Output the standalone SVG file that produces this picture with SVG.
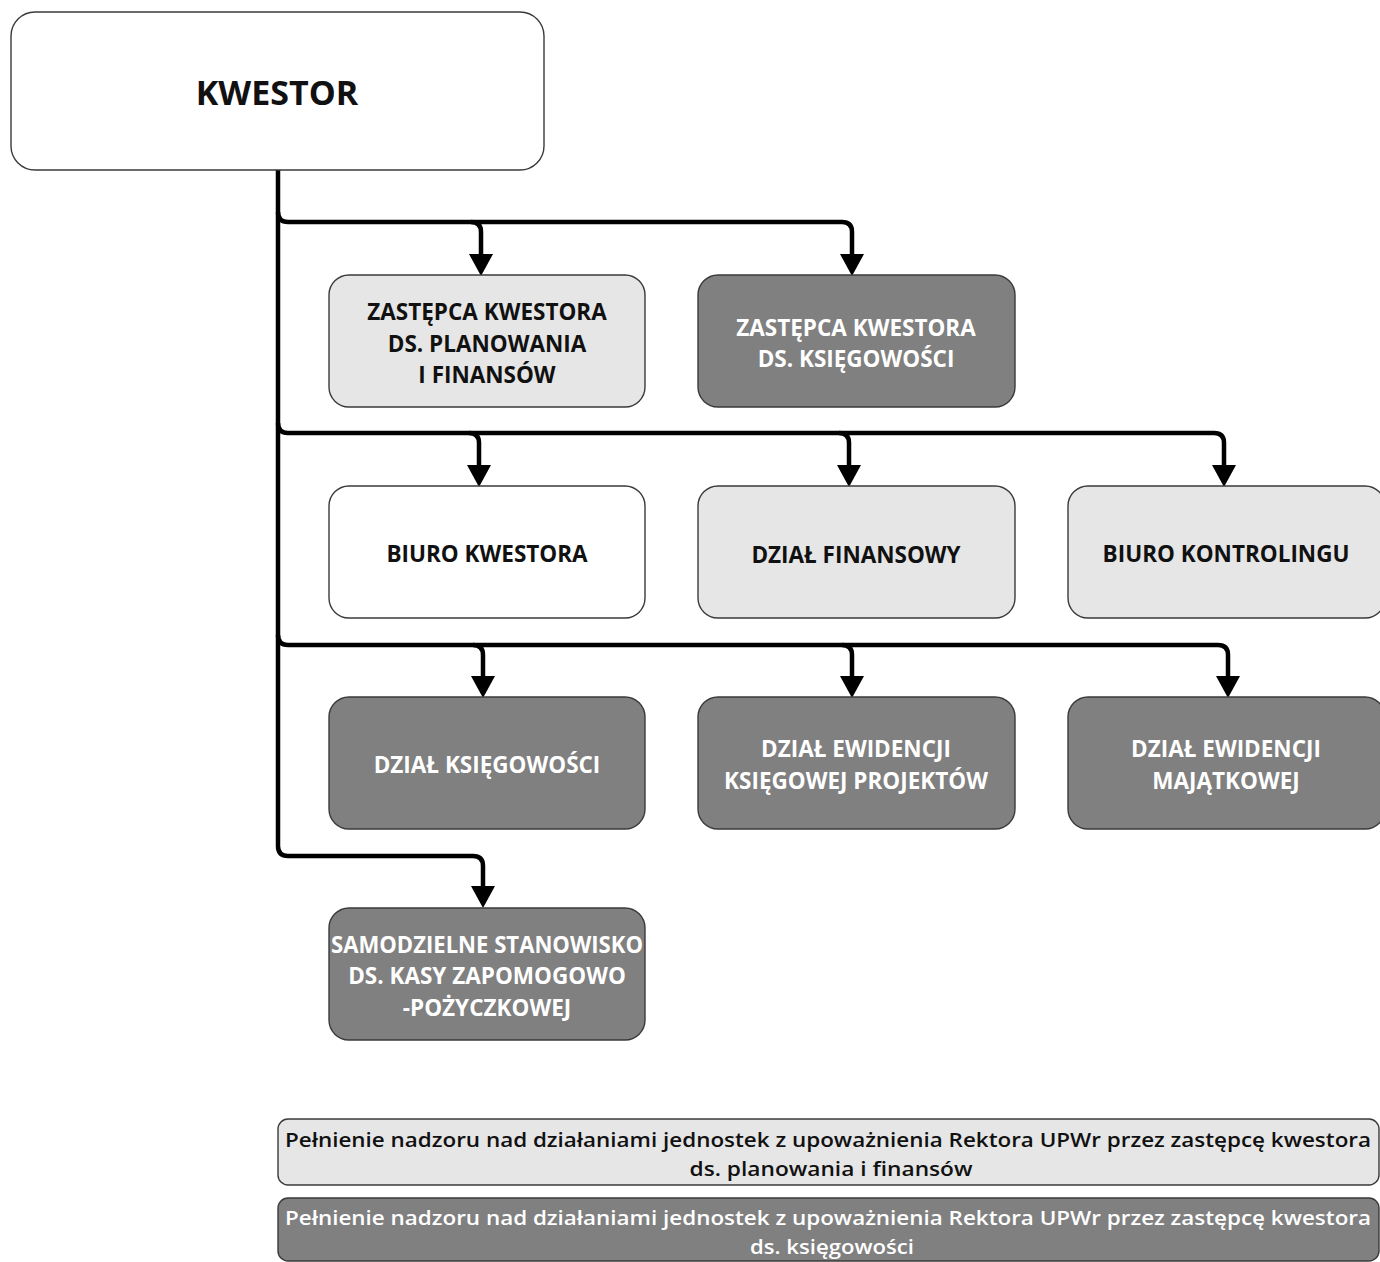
<svg xmlns="http://www.w3.org/2000/svg" width="1380" height="1262" viewBox="0 0 1380 1262">
<style>
.box{stroke:#3a3a3a;stroke-width:1.4}
.w{fill:#ffffff}
.l{fill:#e6e6e6}
.d{fill:#808080}
.t{font-family:"Open Sans","Liberation Sans",sans-serif;font-weight:700;font-size:22.5px;text-anchor:middle;dominant-baseline:central}
.big{font-size:34px}
.tw{fill:#ffffff}
.tb{fill:#111111}
.lg{font-family:"Open Sans","Liberation Sans",sans-serif;font-weight:600;font-size:20.5px;text-anchor:middle;dominant-baseline:central}
.c{fill:none;stroke:#000;stroke-width:4.5;stroke-linejoin:round}
</style>
<defs>
<marker id="arr" markerUnits="userSpaceOnUse" markerWidth="24" markerHeight="24" viewBox="0 0 20 22" refX="10" refY="11" orient="auto">
<path d="M0,0 L20,11 L0,22 z" fill="#000"/>
</marker>
</defs>
<g id="connectors">
<path class="c" d="M278,170 V846 Q278,856 288,856 H473 Q483,856 483,866 V897" marker-end="url(#arr)"/>
<path class="c" d="M278,212 Q278,222 288,222 H842 Q852,222 852,232 V265" marker-end="url(#arr)"/>
<path class="c" d="M471,222 Q481,222 481,232 V265" marker-end="url(#arr)"/>
<path class="c" d="M278,423 Q278,433 288,433 H1214 Q1224,433 1224,443 V476" marker-end="url(#arr)"/>
<path class="c" d="M469,433 Q479,433 479,443 V476" marker-end="url(#arr)"/>
<path class="c" d="M839,433 Q849,433 849,443 V476" marker-end="url(#arr)"/>
<path class="c" d="M278,635 Q278,645 288,645 H1218 Q1228,645 1228,655 V687" marker-end="url(#arr)"/>
<path class="c" d="M473,645 Q483,645 483,655 V687" marker-end="url(#arr)"/>
<path class="c" d="M842,645 Q852,645 852,655 V687" marker-end="url(#arr)"/>
</g>
<g id="kwestor">
<rect class="box w" x="11" y="12" width="533" height="158" rx="24"/>
<text class="t tb big" x="277" y="92">KWESTOR</text>
</g>
<g id="zastepca-planowania">
<rect class="box l" x="329" y="275" width="316" height="132" rx="20"/>
<text class="t tb" x="487" y="311">ZASTĘPCA KWESTORA</text>
<text class="t tb" x="487" y="343">DS. PLANOWANIA</text>
<text class="t tb" x="487" y="374">I FINANSÓW</text>
</g>
<g id="zastepca-ksiegowosci">
<rect class="box d" x="698" y="275" width="317" height="132" rx="20"/>
<text class="t tw" x="856" y="327">ZASTĘPCA KWESTORA</text>
<text class="t tw" x="856" y="358">DS. KSIĘGOWOŚCI</text>
</g>
<g id="biuro-kwestora">
<rect class="box w" x="329" y="486" width="316" height="132" rx="20"/>
<text class="t tb" x="487" y="553">BIURO KWESTORA</text>
</g>
<g id="dzial-finansowy">
<rect class="box l" x="698" y="486" width="317" height="132" rx="20"/>
<text class="t tb" x="856" y="554">DZIAŁ FINANSOWY</text>
</g>
<g id="biuro-kontrolingu">
<rect class="box l" x="1068" y="486" width="317" height="132" rx="20"/>
<text class="t tb" x="1226" y="553">BIURO KONTROLINGU</text>
</g>
<g id="dzial-ksiegowosci">
<rect class="box d" x="329" y="697" width="316" height="132" rx="20"/>
<text class="t tw" x="487" y="764">DZIAŁ KSIĘGOWOŚCI</text>
</g>
<g id="dzial-ewidencji-projektow">
<rect class="box d" x="698" y="697" width="317" height="132" rx="20"/>
<text class="t tw" x="856" y="748">DZIAŁ EWIDENCJI</text>
<text class="t tw" x="856" y="780">KSIĘGOWEJ PROJEKTÓW</text>
</g>
<g id="dzial-ewidencji-majatkowej">
<rect class="box d" x="1068" y="697" width="317" height="132" rx="20"/>
<text class="t tw" x="1226" y="748">DZIAŁ EWIDENCJI</text>
<text class="t tw" x="1226" y="780">MAJĄTKOWEJ</text>
</g>
<g id="samodzielne-stanowisko">
<rect class="box d" x="329" y="908" width="316" height="132" rx="20"/>
<text class="t tw" x="487" y="944" textLength="312" lengthAdjust="spacingAndGlyphs">SAMODZIELNE STANOWISKO</text>
<text class="t tw" x="487" y="975">DS. KASY ZAPOMOGOWO</text>
<text class="t tw" x="487" y="1007">-POŻYCZKOWEJ</text>
</g>
<g id="legend-planowania">
<rect class="box l" x="278" y="1119" width="1101" height="66" rx="10"/>
<text class="lg tb" x="828" y="1139" textLength="1086" lengthAdjust="spacingAndGlyphs">Pełnienie nadzoru nad działaniami jednostek z upoważnienia Rektora UPWr przez zastępcę kwestora</text>
<text class="lg tb" x="831" y="1168" textLength="283" lengthAdjust="spacingAndGlyphs">ds. planowania i finansów</text>
</g>
<g id="legend-ksiegowosci">
<rect class="box d" x="278" y="1198" width="1101" height="63" rx="10"/>
<text class="lg tw" x="828" y="1217" textLength="1086" lengthAdjust="spacingAndGlyphs">Pełnienie nadzoru nad działaniami jednostek z upoważnienia Rektora UPWr przez zastępcę kwestora</text>
<text class="lg tw" x="832" y="1246" textLength="164" lengthAdjust="spacingAndGlyphs">ds. księgowości</text>
</g>
</svg>
